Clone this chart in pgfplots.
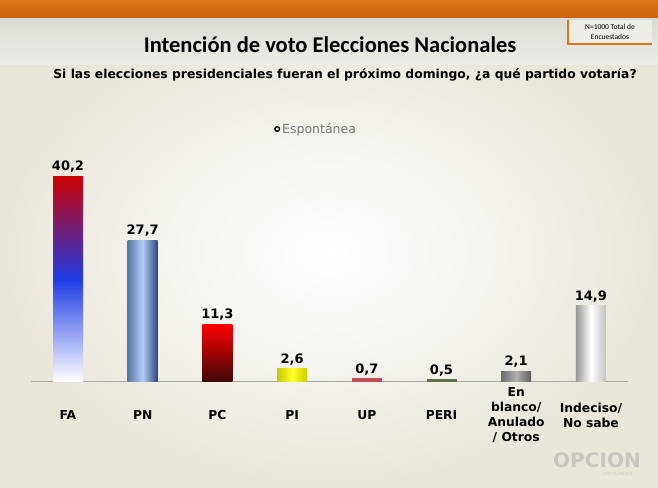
\documentclass[border=0pt]{standalone}
\usepackage{pgfplots}
\pgfplotsset{compat=1.18}
\usepackage{fontspec}
\setmainfont{DejaVu Sans}
\newfontfamily\titlefont{Carlito}

\definecolor{orangeband}{HTML}{DD7416}
\definecolor{orangedark}{HTML}{C9640E}
\definecolor{headtop}{HTML}{DCDAD3}
\definecolor{headbot}{HTML}{EDECE7}
\definecolor{bgouter}{HTML}{EAE6DA}
\definecolor{linegray}{HTML}{A8A8A8}
\definecolor{legtext}{HTML}{787878}
\definecolor{logogray}{HTML}{C8C6C0}

\begin{document}
\begin{tikzpicture}[x=1pt,y=1pt]
\useasboundingbox (0,0) rectangle (658,487);
% background
\shade[inner color=white, outer color=bgouter] (0,0) rectangle (658,469);
\shade[top color=headtop, bottom color=headbot] (0,422) rectangle (658,469);
\shade[top color=orangeband, bottom color=orangedark] (0,469) rectangle (658,487);
% N box
\fill[headbot] (568,443) rectangle (652,467);
\draw[orangeband, line width=1.5pt] (568,467) -- (568,443) -- (652,443);
\node[align=center, font=\titlefont\fontsize{7.5}{9.5}\selectfont] at (610,455) {N=1000 Total de\\Encuestados};
% titles
\node[font=\titlefont\bfseries\fontsize{22.5}{24}\selectfont] at (330,442) {Intención de voto Elecciones Nacionales};
\node[font=\bfseries\fontsize{12.35}{14}\selectfont] at (345,412) {Si las elecciones presidenciales fueran el próximo domingo, ¿a qué partido votaría?};
% logo
\node[font=\bfseries\fontsize{20}{21}\selectfont, text=logogray, inner sep=0pt] at (597,27) {OPCION};
\node[font=\fontsize{5}{6}\selectfont, text=logogray, inner sep=0pt] at (618,13) {consultores};

\begin{axis}[
  at={(68pt,105pt)}, anchor=origin,
  scale only axis, width=597.6pt, height=230.4pt,
  xmin=-0.5, xmax=7.5, ymin=0, ymax=45,
  clip=false,
  ybar, bar width=30pt, bar shift=0pt,
  axis x line*=bottom, axis y line=none,
  x axis line style={draw=linegray, line width=1pt, -},
  xtick={0,...,7},
  xticklabels={FA,PN,PC,PI,UP,PERI,{En\\blanco/\\Anulado\\/ Otros},{Indeciso/\\No sabe}},
  xticklabel style={align=center, font=\bfseries\fontsize{12.3}{15}\selectfont, anchor=center, yshift=-33pt},
  major tick length=0pt,
  nodes near coords={\pgfmathprintnumber[use comma,fixed,fixed zerofill,precision=1,assume math mode=true]{\pgfplotspointmeta}},
  every node near coord/.append style={font=\bfseries\fontsize{13}{15}\selectfont, text=black},
  legend style={draw=none, fill=none, at={(0.4776,1.098)}, anchor=center,
    font=\fontsize{12.5}{14}\selectfont, text=legtext},
]
\addlegendimage{legend image code/.code={\draw[black, fill=white, line width=1.4pt] (0.2cm,0) circle (2.3pt);}}
\addlegendentry{Espontánea}
\addplot[draw=none, top color=red!80!black, bottom color=white, middle color={rgb,255:red,30;green,60;blue,230}] coordinates {(0,40.2)};
\addplot[draw=none, left color={rgb,255:red,90;green,120;blue,165}, right color={rgb,255:red,40;green,70;blue,125}, middle color={rgb,255:red,180;green,205;blue,245}] coordinates {(1,27.7)};
\addplot[draw=none, top color=red, bottom color={rgb,255:red,60;green,8;blue,8}] coordinates {(2,11.3)};
\addplot[draw=none, left color={rgb,255:red,200;green,200;blue,0}, right color={rgb,255:red,205;green,205;blue,0}, middle color={rgb,255:red,255;green,255;blue,40}] coordinates {(3,2.6)};
\addplot[draw=none, fill={rgb,255:red,195;green,80;blue,80}] coordinates {(4,0.7)};
\addplot[draw=none, fill={rgb,255:red,95;green,110;blue,75}] coordinates {(5,0.5)};
\addplot[draw=none, left color={rgb,255:red,110;green,110;blue,110}, right color={rgb,255:red,95;green,95;blue,95}, middle color={rgb,255:red,175;green,175;blue,175}] coordinates {(6,2.1)};
\addplot[draw=none, left color={rgb,255:red,150;green,150;blue,150}, right color={rgb,255:red,195;green,195;blue,195}, middle color=white] coordinates {(7,14.9)};
\end{axis}
\end{tikzpicture}
\end{document}
